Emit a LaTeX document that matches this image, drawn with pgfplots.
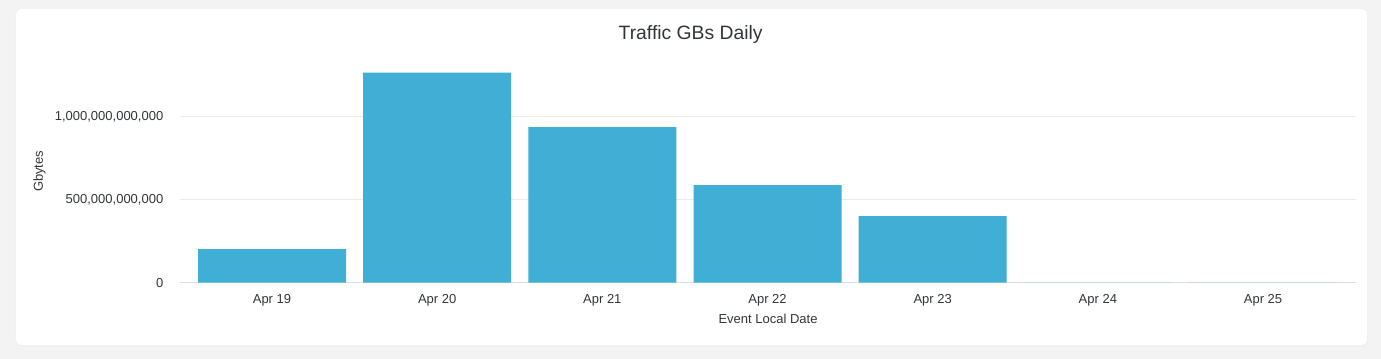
\documentclass[border=0pt]{standalone}
\usepackage{pgfplots}
\pgfplotsset{compat=1.18}
\usepackage{fontspec}
\setmainfont{Liberation Sans}
\definecolor{barblue}{RGB}{64,175,214}
\definecolor{txt}{RGB}{50,54,58}
\definecolor{gridc}{RGB}{235,235,237}
\definecolor{axc}{RGB}{218,222,234}
\definecolor{bg}{RGB}{243,243,243}
\begin{document}
\begin{tikzpicture}[x=1pt,y=1pt]
\useasboundingbox (0,0) rectangle (1035.75,269.25);
\fill[bg] (0,0) rectangle (1035.75,269.25);
\fill[black!6,rounded corners=4pt] (11.5,9.5) rectangle (1026,263);
\fill[white,rounded corners=4pt] (12,10.5) rectangle (1025.25,262.5);
\node[text=txt,font=\fontsize{14.5}{17}\selectfont] at (518,243.5) {Traffic GBs Daily};
\begin{axis}[
  at={(135pt,57.2pt)}, anchor=south west,
  scale only axis,
  width=882pt, height=167pt,
  xmin=-0.557, xmax=6.563,
  ymin=0, ymax=1.342e12,
  ybar, bar width=111pt,
  axis lines*=left,
  x axis line style={axc, line width=1pt},
  y axis line style={draw=none},
  major tick length=0pt,
  xtick={0,1,2,3,4,5,6},
  xticklabels={Apr 19,Apr 20,Apr 21,Apr 22,Apr 23,Apr 24,Apr 25},
  ytick={0,5e11,1e12},
  yticklabels={0,{500,000,000,000},{1,000,000,000,000}},
  scaled y ticks=false,
  ymajorgrids,
  grid style={gridc, line width=0.9pt},
  tick label style={text=txt,font=\fontsize{9.75}{11}\selectfont},
  xticklabel style={yshift=-5pt},
  yticklabel style={xshift=-9pt},
  xlabel={Event Local Date},
  ylabel={Gbytes},
  label style={text=txt,font=\fontsize{9.75}{11}\selectfont},
  xlabel style={yshift=1pt},
  clip=false,
]
\addplot[fill=barblue, draw=none] coordinates {
 (0,2.03e11) (1,1.267e12) (2,9.38e11) (3,5.88e11) (4,4.02e11) (5,0) (6,0)
};
\end{axis}
\end{tikzpicture}
\end{document}
